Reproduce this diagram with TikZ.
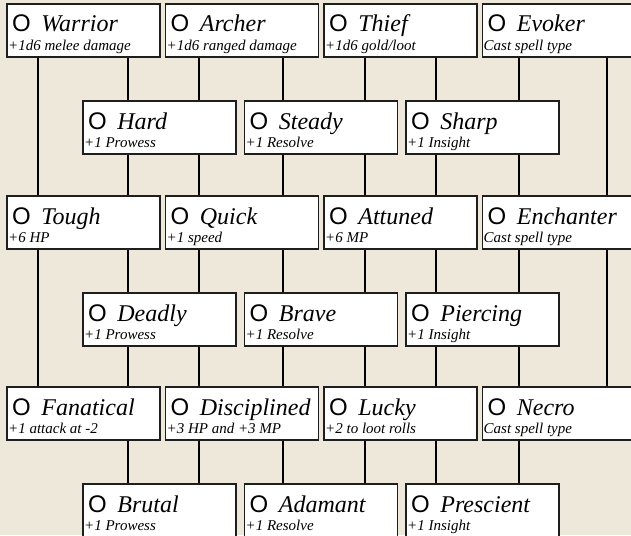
\documentclass[tikz,border=0pt]{standalone}
\usepackage{fontspec}
\setmainfont{Liberation Serif}
\newfontfamily\circlefont{Liberation Sans}
\usepackage{xcolor}
\definecolor{Parchment}{RGB}{238,232,219}
\definecolor{BoxEdge}{RGB}{30,30,30}
\usepackage{tikz}
\usetikzlibrary{calc, positioning, backgrounds}
% box name, top-left corner, perk, bonus
\newcommand{\perk}[4]{%
    \node[perkbox] (#1) at (#2) {};
    \node[perkname] (#1-name) at ([shift={(5,28)}]#1.north west) {{\circlefont\fontsize{24}{28}\selectfont O}\hspace{10.5pt}\textit{#3}};
    \node[perkgain] (#1-gain) at ([shift={(1,46.5)}]#1.north west) {#4};
}

\begin{document}
\begin{tikzpicture}[
        x=1pt, y=-1pt,
        % Styles
        perkbox/.style={rectangle, draw=BoxEdge, fill=white, line width=1.3pt, anchor=north west, minimum width=153pt, minimum height=53pt, inner sep=0pt, outer sep=0pt},
        perkname/.style={anchor=base west, inner sep=0pt, font=\fontsize{24}{29}\selectfont},
        perkgain/.style={anchor=base west, inner sep=0pt, font=\fontsize{15}{18}\selectfont\itshape},
        link/.style={line width=2.8pt, black}
    ]
    \useasboundingbox (0,0) rectangle (631,535);
    \begin{scope}[on background layer]
        \fill[Parchment] (0,0) rectangle (631,535);
    \end{scope}
    \clip (0,0) rectangle (631,535);

    % 1. CLASSES
    \perk{warrior}{7,4}{Warrior}{+1d6 melee damage}
    \perk{archer}{165.5,4}{Archer}{+1d6 ranged damage}
    \perk{thief}{324,4}{Thief}{+1d6 gold/loot}
    \perk{evoker}{482.5,4}{Evoker}{Cast spell type}

    % 2. FIRST STAT TIER
    \perk{hard}{83,101}{Hard}{+1 Prowess}
    \perk{steady}{244.5,101}{Steady}{+1 Resolve}
    \perk{sharp}{406,101}{Sharp}{+1 Insight}

    % 3. SECOND CLASS TIER
    \perk{tough}{7,196}{Tough}{+6 HP}
    \perk{quick}{165.5,196}{Quick}{+1 speed}
    \perk{attuned}{324,196}{Attuned}{+6 MP}
    \perk{enchanter}{482.5,196}{Enchanter}{Cast spell type}

    % 4. SECOND STAT TIER
    \perk{deadly}{83,293}{Deadly}{+1 Prowess}
    \perk{brave}{244.5,293}{Brave}{+1 Resolve}
    \perk{piercing}{406,293}{Piercing}{+1 Insight}

    % 5. THIRD CLASS TIER
    \perk{fanatical}{7,387}{Fanatical}{+1 attack at -2}
    \perk{disciplined}{165.5,387}{Disciplined}{+3 HP and +3 MP}
    \perk{lucky}{324,387}{Lucky}{+2 to loot rolls}
    \perk{necro}{482.5,387}{Necro}{Cast spell type}

    % 6. THIRD STAT TIER
    \perk{brutal}{83,484}{Brutal}{+1 Prowess}
    \perk{adamant}{244.5,484}{Adamant}{+1 Resolve}
    \perk{prescient}{406,484}{Prescient}{+1 Insight}

    % 7. LINKS (behind the boxes)
    \begin{scope}[on background layer]
        \coordinate (warrior-left) at ([xshift=31pt]warrior.south west);
        \coordinate (warrior-right) at ([xshift=121pt]warrior.south west);
        \coordinate (archer-left) at ([xshift=33.5pt]archer.south west);
        \coordinate (archer-right) at ([xshift=117.5pt]archer.south west);
        \coordinate (thief-left) at ([xshift=41pt]thief.south west);
        \coordinate (thief-right) at ([xshift=112pt]thief.south west);
        \coordinate (evoker-left) at ([xshift=36.5pt]evoker.south west);
        \coordinate (evoker-right) at ([xshift=124.5pt]evoker.south west);
        \draw[link] (warrior-left) -- (warrior-left |- fanatical.north);
        \draw[link] (warrior-right) -- (warrior-right |- brutal.north);
        \draw[link] (archer-left) -- (archer-left |- brutal.north);
        \draw[link] (archer-right) -- (archer-right |- adamant.north);
        \draw[link] (thief-left) -- (thief-left |- adamant.north);
        \draw[link] (thief-right) -- (thief-right |- prescient.north);
        \draw[link] (evoker-left) -- (evoker-left |- prescient.north);
        \draw[link] (evoker-right) -- (evoker-right |- necro.north);
    \end{scope}
\end{tikzpicture}
\end{document}
